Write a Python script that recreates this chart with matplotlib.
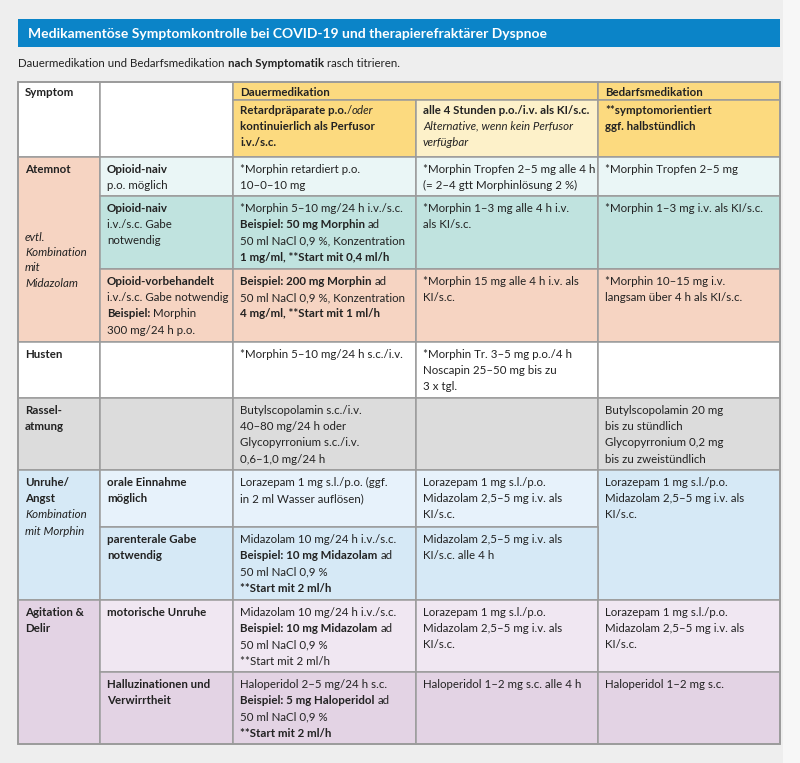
import re
import matplotlib
matplotlib.use("Agg")
import matplotlib.pyplot as plt
from matplotlib.patches import Rectangle

plt.rcParams['font.family'] = ['Lato', 'DejaVu Sans']

W, H = 800, 763
FS = 8.3
LINE = 16.3

title = "Medikamentöse Symptomkontrolle bei COVID-19 und therapierefraktärer Dyspnoe"
subtitle = "Dauermedikation und Bedarfsmedikation <b>nach Symptomatik</b> rasch titrieren."

# table grid (pixel layout)
col_x = [18, 100, 233, 416, 598, 780]
row_y = [82, 100, 157, 196, 269, 342, 398, 470, 527, 600, 672, 744]

YEL = "#fcda7f"
YEL2 = "#fdf1c9"
PEACH = "#f6d4c2"
CYAN = "#eaf6f6"
TEAL = "#c0e3df"
GREY = "#dcdcdc"
BLUE = "#d6e9f6"
BLUE2 = "#e7f2fb"
PURP = "#e3d3e4"
PURP2 = "#f0e7f2"
WHITE = "#ffffff"

# header cells: (col0, col1, row0, row1, colour, lines)
header_cells = [
    (0, 1, 0, 2, WHITE, ["<b>Symptom</b>"]),
    (1, 2, 0, 2, WHITE, []),
    (2, 4, 0, 1, YEL, ["<b>Dauermedikation</b>"]),
    (4, 5, 0, 1, YEL, ["<b>Bedarfsmedikation</b>"]),
    (2, 3, 1, 2, YEL, ["<b>Retardpräparate p.o.</b>/<i>oder</i>",
                       "<b>kontinuierlich als Perfusor</b>",
                       "<b>i.v./s.c.</b>"]),
    (3, 4, 1, 2, YEL2, ["<b>alle 4 Stunden p.o./i.v. als KI/s.c.</b>",
                        "<i>Alternative, wenn kein Perfusor</i>",
                        "<i>verfügbar</i>"]),
    (4, 5, 1, 2, YEL, ["<b>**symptomorientiert</b>",
                       "<b>ggf. halbstündlich</b>"]),
]

body_cells = [
    # Atemnot
    (0, 1, 2, 5, PEACH, ["<b>Atemnot</b>"]),
    (1, 2, 2, 3, CYAN, ["<b>Opioid-naiv</b>", "p.o. möglich"]),
    (2, 3, 2, 3, CYAN, ["*Morphin retardiert p.o.", "10–0–10 mg"]),
    (3, 4, 2, 3, CYAN, ["*Morphin Tropfen 2–5 mg alle 4 h",
                        "(= 2–4 gtt Morphinlösung 2 %)"]),
    (4, 5, 2, 3, CYAN, ["*Morphin Tropfen 2–5 mg"]),
    (1, 2, 3, 4, TEAL, ["<b>Opioid-naiv</b>", "i.v./s.c. Gabe", "notwendig"]),
    (2, 3, 3, 4, TEAL, ["*Morphin 5–10 mg/24 h i.v./s.c.",
                        "<b>Beispiel: 50 mg Morphin</b> ad",
                        "50 ml NaCl 0,9 %, Konzentration",
                        "<b>1 mg/ml, **Start mit 0,4 ml/h</b>"]),
    (3, 4, 3, 4, TEAL, ["*Morphin 1–3 mg alle 4 h i.v.", "als KI/s.c."]),
    (4, 5, 3, 4, TEAL, ["*Morphin 1–3 mg i.v. als KI/s.c."]),
    (1, 2, 4, 5, PEACH, ["<b>Opioid-vorbehandelt</b>",
                         "i.v./s.c. Gabe notwendig",
                         "<b>Beispiel:</b> Morphin",
                         "300 mg/24 h p.o."]),
    (2, 3, 4, 5, PEACH, ["<b>Beispiel: 200 mg Morphin</b> ad",
                         "50 ml NaCl 0,9 %, Konzentration",
                         "<b>4 mg/ml, **Start mit 1 ml/h</b>"]),
    (3, 4, 4, 5, PEACH, ["*Morphin 15 mg alle 4 h i.v. als", "KI/s.c."]),
    (4, 5, 4, 5, PEACH, ["*Morphin 10–15 mg i.v.",
                         "langsam über 4 h als KI/s.c."]),
    # Husten
    (0, 1, 5, 6, WHITE, ["<b>Husten</b>"]),
    (1, 2, 5, 6, WHITE, []),
    (2, 3, 5, 6, WHITE, ["*Morphin 5–10 mg/24 h s.c./i.v."]),
    (3, 4, 5, 6, WHITE, ["*Morphin Tr. 3–5 mg p.o./4 h",
                         "Noscapin 25–50 mg bis zu", "3 x tgl."]),
    (4, 5, 5, 6, WHITE, []),
    # Rasselatmung
    (0, 1, 6, 7, GREY, ["<b>Rassel-</b>", "<b>atmung</b>"]),
    (1, 2, 6, 7, GREY, []),
    (2, 3, 6, 7, GREY, ["Butylscopolamin s.c./i.v.", "40–80 mg/24 h oder",
                        "Glycopyrronium s.c./i.v.", "0,6–1,0 mg/24 h"]),
    (3, 4, 6, 7, GREY, []),
    (4, 5, 6, 7, GREY, ["Butylscopolamin 20 mg", "bis zu stündlich",
                        "Glycopyrronium 0,2 mg", "bis zu zweistündlich"]),
    # Unruhe / Angst
    (0, 1, 7, 9, BLUE, ["<b>Unruhe/</b>", "<b>Angst</b>",
                        "<i>Kombination</i>", "<i>mit Morphin</i>"]),
    (1, 2, 7, 8, BLUE2, ["<b>orale Einnahme</b>", "<b>möglich</b>"]),
    (2, 3, 7, 8, BLUE2, ["Lorazepam 1 mg s.l./p.o. (ggf.",
                         "in 2 ml Wasser auflösen)"]),
    (3, 4, 7, 8, BLUE2, ["Lorazepam 1 mg s.l./p.o.",
                         "Midazolam 2,5–5 mg i.v. als", "KI/s.c."]),
    (4, 5, 7, 9, BLUE, ["Lorazepam 1 mg s.l./p.o.",
                        "Midazolam 2,5–5 mg i.v. als", "KI/s.c."]),
    (1, 2, 8, 9, BLUE, ["<b>parenterale Gabe</b>", "<b>notwendig</b>"]),
    (2, 3, 8, 9, BLUE, ["Midazolam 10 mg/24 h i.v./s.c.",
                        "<b>Beispiel: 10 mg Midazolam</b> ad",
                        "50 ml NaCl 0,9 %",
                        "<b>**Start mit 2 ml/h</b>"]),
    (3, 4, 8, 9, BLUE, ["Midazolam 2,5–5 mg i.v. als", "KI/s.c. alle 4 h"]),
    # Agitation & Delir
    (0, 1, 9, 11, PURP, ["<b>Agitation &</b>", "<b>Delir</b>"]),
    (1, 2, 9, 10, PURP2, ["<b>motorische Unruhe</b>"]),
    (2, 3, 9, 10, PURP2, ["Midazolam 10 mg/24 h i.v./s.c.",
                          "<b>Beispiel: 10 mg Midazolam</b> ad",
                          "50 ml NaCl 0,9 %",
                          "**Start mit 2 ml/h"]),
    (3, 4, 9, 10, PURP2, ["Lorazepam 1 mg s.l./p.o.",
                          "Midazolam 2,5–5 mg i.v. als", "KI/s.c."]),
    (4, 5, 9, 10, PURP2, ["Lorazepam 1 mg s.l./p.o.",
                          "Midazolam 2,5–5 mg i.v. als", "KI/s.c."]),
    (1, 2, 10, 11, PURP, ["<b>Halluzinationen und</b>", "<b>Verwirrtheit</b>"]),
    (2, 3, 10, 11, PURP, ["Haloperidol 2–5 mg/24 h s.c.",
                          "<b>Beispiel: 5 mg Haloperidol</b> ad",
                          "50 ml NaCl 0,9 %",
                          "<b>**Start mit 2 ml/h</b>"]),
    (3, 4, 10, 11, PURP, ["Haloperidol 1–2 mg s.c. alle 4 h"]),
    (4, 5, 10, 11, PURP, ["Haloperidol 1–2 mg s.c."]),
]

# italic note placed lower in the Atemnot cell
atemnot_note = ["evtl.", "Kombination", "mit", "Midazolam"]

fig = plt.figure(figsize=(W / 100, H / 100), dpi=100)
fig.patch.set_facecolor("#f7f7f7")
ax = fig.add_axes([0, 0, 1, 1])
ax.set_xlim(0, W)
ax.set_ylim(H, 0)
ax.axis("off")
renderer = fig.canvas.get_renderer()

ax.add_patch(Rectangle((0, 0), 783, H, facecolor="#eeeeee", edgecolor="none"))

STYLE = {"r": dict(fontweight="normal", fontstyle="normal"),
         "b": dict(fontweight="bold", fontstyle="normal"),
         "i": dict(fontweight="normal", fontstyle="italic")}


def width(s, st, fs):
    t = ax.text(0, 0, s, fontsize=fs, **STYLE[st])
    w = t.get_window_extent(renderer).width
    t.remove()
    return w


space_w = {}


def parse(line):
    parts = re.split(r"(<b>|</b>|<i>|</i>)", line)
    st = "r"
    out = []
    for p in parts:
        if p in ("<b>", "<i>"):
            st = p[1]
        elif p in ("</b>", "</i>"):
            st = "r"
        elif p:
            out.append((p, st))
    return out


def rich(x, y, line, fs=FS, color="#222222"):
    for seg, st in parse(line):
        key = (st, fs)
        if key not in space_w:
            space_w[key] = width("a a", st, fs) - width("aa", st, fs)
        lead = len(seg) - len(seg.lstrip(" "))
        trail = len(seg) - len(seg.rstrip(" "))
        core = seg.strip(" ")
        x += lead * space_w[key]
        if core:
            t = ax.text(x, y, core, fontsize=fs, color=color, va="baseline",
                        ha="left", **STYLE[st])
            x += t.get_window_extent(renderer).width
        x += trail * space_w[key]
    return x


def draw_cell(c0, c1, r0, r1, colour, lines, base=15.8):
    x0, x1 = col_x[c0], col_x[c1]
    y0, y1 = row_y[r0], row_y[r1]
    ax.add_patch(Rectangle((x0, y0), x1 - x0, y1 - y0, facecolor=colour,
                           edgecolor="#9b9b9b", linewidth=1.1))
    for k, line in enumerate(lines):
        rich(x0 + 7, y0 + base + k * LINE, line)


# title bar
ax.add_patch(Rectangle((18, 19), 762, 28, facecolor="#0b84c8", edgecolor="none"))
rich(28, 38, "<b>" + title + "</b>", fs=10.0, color="white")
rich(18, 67, subtitle, fs=FS)

for cell in header_cells:
    draw_cell(*cell, base=13.5)
for cell in body_cells:
    draw_cell(*cell)

for k, line in enumerate(atemnot_note):
    rich(col_x[0] + 7, 241 + k * 15.2, "<i>" + line + "</i>")

ax.add_patch(Rectangle((col_x[0], row_y[0]), col_x[-1] - col_x[0],
                       row_y[-1] - row_y[0], facecolor="none",
                       edgecolor="#9b9b9b", linewidth=1.3))

fig.savefig("out.png", dpi=100, facecolor=fig.get_facecolor())
